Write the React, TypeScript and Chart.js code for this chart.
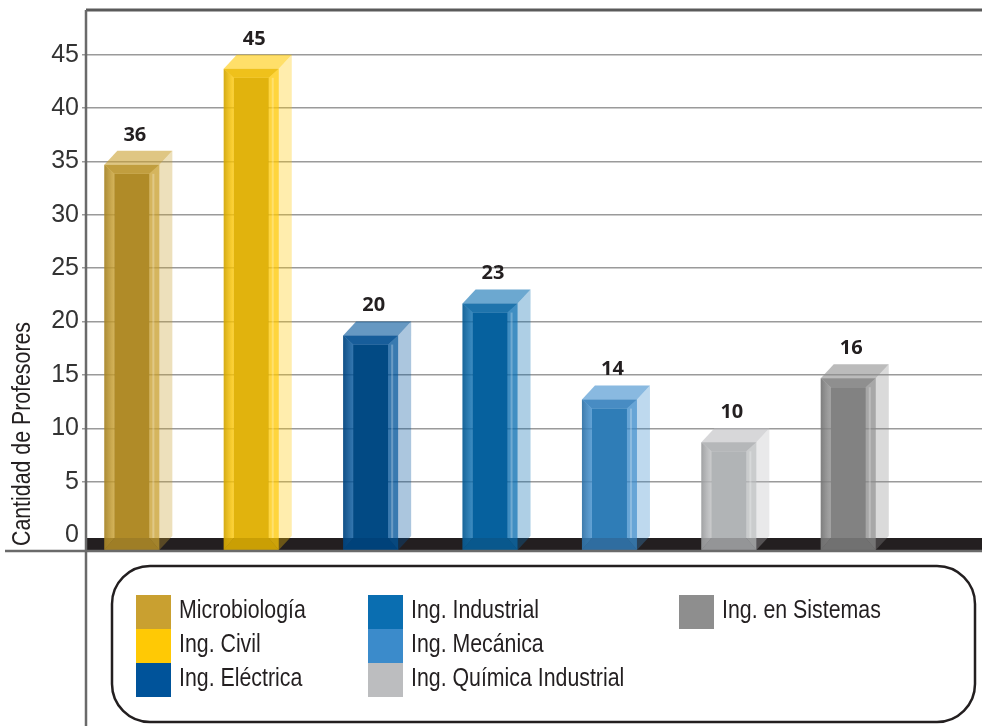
import React, { useEffect, useRef } from "react";
import { Chart, registerables } from "chart.js";

Chart.register(...registerables);

// ---- data ----
const categories = [
  "Microbiología",
  "Ing. Civil",
  "Ing. Eléctrica",
  "Ing. Industrial",
  "Ing. Mecánica",
  "Ing. Química Industrial",
  "Ing. en Sistemas",
];
const values = [36, 45, 20, 23, 14, 10, 16];
const yTicks = [0, 5, 10, 15, 20, 25, 30, 35, 40, 45];
const yTitle = "Cantidad de Profesores";

// ---- styles ----
const baseColors = [
  [201, 160, 48],
  [255, 201, 5],
  [0, 83, 154],
  [10, 110, 177],
  [59, 139, 203],
  [188, 189, 191],
  [142, 142, 142],
];
const innerColors = ["#b08b28", "#e1b30d", "#024a84", "#06619e", "#2f7db7", "#b1b4b6", "#828282"];
const legendColumns = [
  [0, 1, 2],
  [3, 4, 5],
  [6],
];

const rgba = (c: number[], a: number) => `rgba(${c[0]},${c[1]},${c[2]},${a})`;
const shade = (c: number[], f: number) => c.map((v) => Math.round(v * f));

function narrowText(ctx: CanvasRenderingContext2D, text: string, x: number, y: number, size: number) {
  ctx.save();
  ctx.translate(x, y);
  ctx.scale(0.82, 1);
  ctx.font = `${size}px "Liberation Sans", Arial, sans-serif`;
  ctx.fillText(text, 0, 0);
  ctx.restore();
}

const decorPlugin = {
  id: "decor3d",
  afterDatasetsDraw(chart: any) {
    const ctx: CanvasRenderingContext2D = chart.ctx;
    const area = chart.chartArea;
    const ys = chart.scales.y;
    const meta = chart.getDatasetMeta(0);
    const W = chart.width;
    const H = chart.height;
    const y0 = ys.getPixelForValue(0);
    const floorTop = y0 + 3;
    const bottom = y0 + 15;

    ctx.save();
    // floor
    ctx.fillStyle = "#231f20";
    ctx.fillRect(area.left, floorTop, W - area.left, bottom - floorTop);

    // bars
    const BW = 55, dx = 13, dy = 14, bev = 10, tb = 9;
    meta.data.forEach((el: any, i: number) => {
      const base = baseColors[i];
      const cx = el.x;
      const L = cx - BW / 2;
      const R = cx + BW / 2;
      const yb = ys.getPixelForValue(values[i]);
      const yf = yb + dy;
      const poly = (pts: number[][], fill: any) => {
        ctx.beginPath();
        ctx.moveTo(pts[0][0], pts[0][1]);
        for (let k = 1; k < pts.length; k++) ctx.lineTo(pts[k][0], pts[k][1]);
        ctx.closePath();
        ctx.fillStyle = fill;
        ctx.fill();
      };
      // side face (translucent)
      poly([[R, yf], [R + dx, yb], [R + dx, bottom - dy], [R, bottom]], rgba(base, 0.33));
      // top face
      poly([[L, yf], [L + dx, yb], [R + dx, yb], [R, yf]], rgba(base, 0.6));
      // front base
      poly([[L, yf], [R, yf], [R, bottom], [L, bottom]], rgba(base, 0.55));
      // left bevel gradient
      const g = ctx.createLinearGradient(L, 0, L + bev, 0);
      g.addColorStop(0, rgba(shade(base, 0.8), 0.85));
      g.addColorStop(1, rgba(base, 0.55));
      poly([[L, yf], [L + bev, yf + tb], [L + bev, floorTop], [L, bottom]], g);
      // right bevel
      poly([[R, yf], [R - bev, yf + tb], [R - bev, floorTop], [R, bottom]], rgba(base, 0.5));
      ctx.fillStyle = "rgba(255,255,255,0.25)";
      ctx.fillRect(R - bev + 3, yf + tb, 2, floorTop - yf - tb);
      // top bevel
      poly([[L, yf], [R, yf], [R - bev, yf + tb], [L + bev, yf + tb]], rgba(shade(base, 0.92), 0.8));
      // bottom bevel
      poly([[L, bottom], [R, bottom], [R - bev, floorTop], [L + bev, floorTop]], rgba(shade(base, 0.8), 0.95));
      // inner face
      ctx.fillStyle = innerColors[i];
      ctx.fillRect(L + bev, yf + tb, BW - 2 * bev, floorTop - yf - tb);
      // value label
      ctx.fillStyle = "#231f20";
      ctx.font = 'bold 20px "Open Sans", "DejaVu Sans", sans-serif';
      ctx.textAlign = "center";
      ctx.textBaseline = "middle";
      ctx.fillText(String(values[i]), cx + 3, yb - 16);
    });

    // axes lines
    ctx.strokeStyle = "#5a5a5a";
    ctx.lineWidth = 3;
    ctx.beginPath();
    ctx.moveTo(area.left, area.top);
    ctx.lineTo(W, area.top);
    ctx.stroke();
    ctx.strokeStyle = "#6a6a6a";
    ctx.lineWidth = 2.5;
    ctx.beginPath();
    ctx.moveTo(area.left, area.top);
    ctx.lineTo(area.left, H);
    ctx.stroke();
    ctx.beginPath();
    ctx.moveTo(5, bottom + 1);
    ctx.lineTo(W, bottom + 1);
    ctx.stroke();

    // y title
    ctx.save();
    ctx.translate(23, y0 - 101);
    ctx.rotate(-Math.PI / 2);
    ctx.fillStyle = "#231f20";
    ctx.textAlign = "center";
    ctx.textBaseline = "middle";
    narrowText(ctx, yTitle, 0, 0, 26);
    ctx.restore();

    // legend box
    const bx = 112, by = bottom + 16, bw = W - 7 - bx, bh = H - 4 - by, r = 38;
    ctx.strokeStyle = "#231f20";
    ctx.lineWidth = 2.5;
    ctx.beginPath();
    ctx.roundRect(bx, by, bw, bh, r);
    ctx.stroke();

    const colX = [136, 368, 679];
    const rowTop = by + 29;
    const rowH = 34;
    ctx.textAlign = "left";
    ctx.textBaseline = "middle";
    legendColumns.forEach((col, ci) => {
      col.forEach((idx, ri) => {
        const sy = rowTop + ri * rowH;
        ctx.fillStyle = rgba(baseColors[idx], 1);
        ctx.fillRect(colX[ci], sy, 35, rowH);
        ctx.fillStyle = "#231f20";
        narrowText(ctx, categories[idx], colX[ci] + 43, sy + rowH / 2 - 1, 26);
      });
    });
    ctx.restore();
  },
};

export default function App() {
  const ref = useRef<HTMLCanvasElement | null>(null);
  useEffect(() => {
    if (!ref.current) return;
    const chart = new Chart(ref.current, {
      type: "bar",
      data: {
        datasets: [
          {
            label: yTitle,
            data: values.map((v, i) => ({ x: i, y: v })),
            backgroundColor: "rgba(0,0,0,0)",
            borderWidth: 0,
            barThickness: 55,
          },
        ],
      },
      options: {
        responsive: false,
        devicePixelRatio: 1,
        animation: false,
        layout: { padding: { top: 10, bottom: 191, left: 0, right: 0 } },
        plugins: { legend: { display: false }, tooltip: { enabled: false } },
        scales: {
          x: {
            type: "linear",
            min: -0.384,
            max: 7.12,
            offset: false,
            display: false,
            grid: { offset: false },
          },
          y: {
            min: 0,
            max: 49.2,
            afterBuildTicks: (scale: any) => {
              scale.ticks = yTicks.map((v) => ({ value: v }));
            },
            afterFit: (scale: any) => {
              scale.width = 86;
              scale.paddingTop = 0;
              scale.paddingBottom = 0;
            },
            border: { display: false },
            grid: {
              color: (c: any) => (c.tick && c.tick.value === 0 ? "rgba(0,0,0,0)" : "#9a9a9a"),
              lineWidth: 1.5,
              tickLength: 4,
            },
            ticks: {
              color: "#333333",
              padding: 3,
              font: { family: '"Liberation Sans", Arial, sans-serif', size: 25 },
            },
          },
        },
      },
      plugins: [decorPlugin],
    });
    return () => chart.destroy();
  }, []);
  return (
    <div style={{ position: "fixed", left: 0, top: 0, width: 982, height: 726, background: "#fff" }}>
      <canvas ref={ref} width={982} height={726} style={{ width: 982, height: 726, display: "block" }} />
    </div>
  );
}
